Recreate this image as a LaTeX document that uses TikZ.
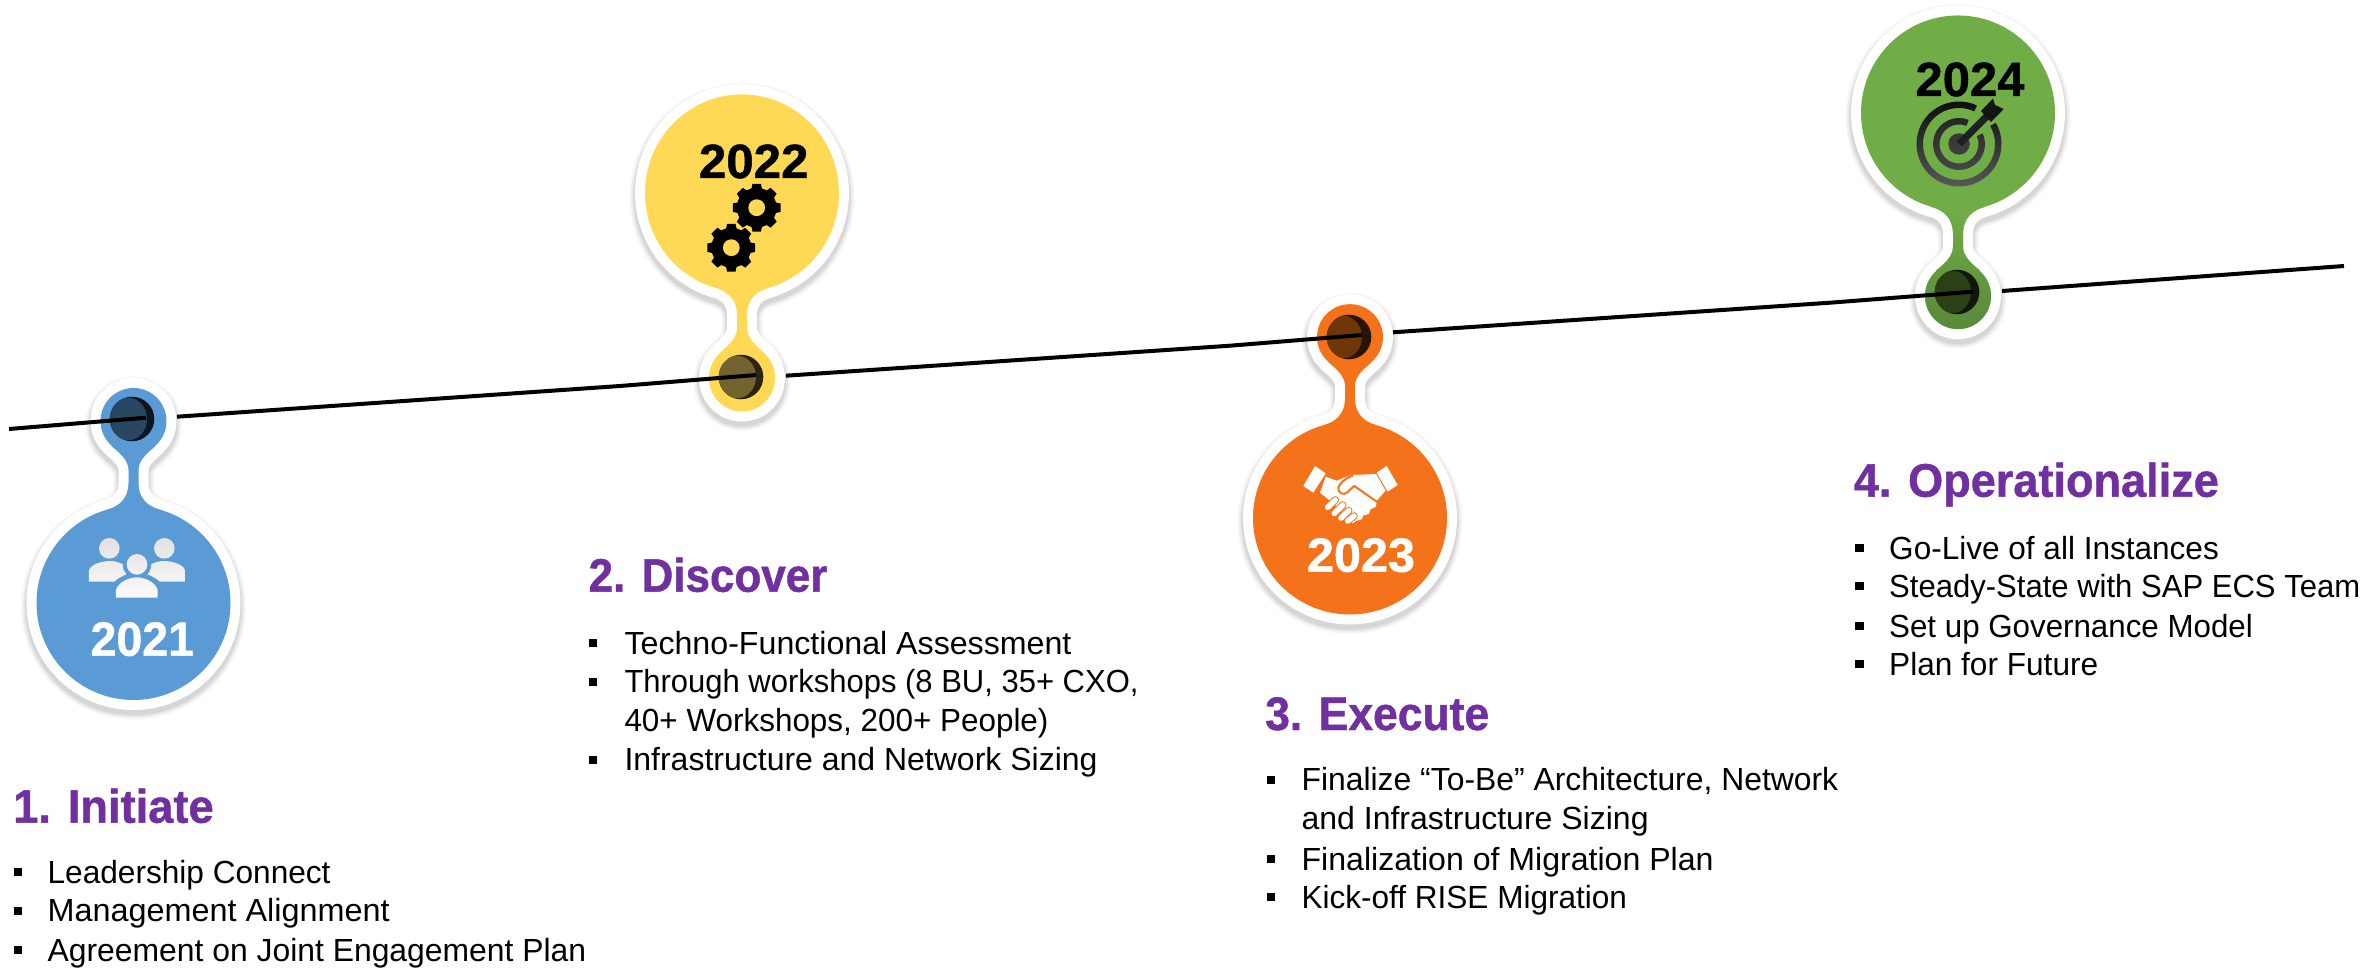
\documentclass[tikz,border=0pt]{standalone}
\usepackage{fontspec}
\usepackage{graphicx}
\setmainfont{Liberation Sans}
\newfontfamily\heavyfont[FakeBold=1.0]{Liberation Sans Bold}
\usetikzlibrary{calc}
\definecolor{headc}{HTML}{7030A0}
\definecolor{bluep}{HTML}{5B9BD5}
\definecolor{yellp}{HTML}{FFD955}
\definecolor{orap}{HTML}{F4731A}
\definecolor{grep}{HTML}{70AD47}
\definecolor{grepd}{HTML}{59873A}
\definecolor{HoleA}{HTML}{2A4762}
\definecolor{HoleAb}{HTML}{0D1620}
\definecolor{HoleB}{HTML}{73632F}
\definecolor{HoleBb}{HTML}{2B2410}
\definecolor{HoleC}{HTML}{6F3608}
\definecolor{HoleCb}{HTML}{291404}
\definecolor{HoleD}{HTML}{2C4018}
\definecolor{HoleDb}{HTML}{101809}
\tikzset{
  headtext/.style={inner sep=0pt,anchor=base west,text=headc,font=\fontsize{47}{52}\selectfont\heavyfont},
  itemtext/.style={inner sep=0pt,anchor=base west,text=black,font=\fontsize{32}{36}\selectfont},
  yeartext/.style={inner sep=0pt,anchor=base,font=\fontsize{48}{52}\selectfont\heavyfont},
  timeline/.style={draw=black,line width=4pt,line cap=butt,line join=round}
}
\newcommand\fitw[2]{\resizebox{#1pt}{\height}{#2}}
\newcommand\neckpath{(-26,-93.5) .. controls (-14,-96.8) and (-5,-105) .. (-5,-120) .. controls (-5,-124) and (-5,-129) .. (-5,-133) .. controls (-5,-143) and (-14,-150) .. (-22,-157)
  -- (22,-157) .. controls (14,-150) and (5,-143) .. (5,-133) .. controls (5,-129) and (5,-124) .. (5,-120) .. controls (5,-105) and (14,-96.8) .. (26,-93.5) -- cycle}
\newcommand\pinpath{(0,0) circle (97) (0,-182) circle (33) \neckpath}
\newcommand\pin[4]{% x y yscale fill
  \foreach \w/\o in {32/.015,30/.02,28/.025,26/.03,24/.035,22/.04}{
    \path[shift={(#1,#2+4)},yscale=#3,draw=black,fill=black,line width=\w pt,opacity=\o,line join=round] \pinpath;}
  \path[shift={(#1,#2)},yscale=#3,draw=white,fill=white,line width=20pt,line join=round] \pinpath;
  \path[shift={(#1,#2)},yscale=#3,fill=#4] (0,0) circle (97) (0,-182) circle (33);
  \path[shift={(#1,#2)},yscale=#3,fill=#4] \neckpath;
}
\newcommand\hole[5]{% frontx y backx front back
  \fill[#5] (#3,#2) circle (22.3);
  \begin{scope}\clip (#3,#2) circle (22.3);
  \fill[#4] (#1,#2) ellipse (19 and 21.3);
  \end{scope}
}
\newcommand\bul[2]{\fill[black] (#1,#2-4.2) rectangle (#1+8.4,#2+4.2);}
\newcommand\gear[2]{%
  \fill[black,line join=round] ($(#1,#2)+(-10:24.3)$)
   \foreach \a in {0,45,...,315}{ -- ($(#1,#2)+(\a-10:24.3)$) -- ($(#1,#2)+(\a+10:24.3)$) -- ($(#1,#2)+(\a+15:20)$) -- ($(#1,#2)+(\a+30:20)$)} -- cycle;
  \fill[yellp] (#1,#2) circle (8.4);
}
\newcommand\shpart[5]{\begin{scope}\clip #1; \shade[top color=#2,bottom color=#3] #4 rectangle #5;\end{scope}}
\begin{document}
\begin{tikzpicture}[yscale=-1,x=1pt,y=1pt]
\path[use as bounding box,fill=white] (0,0) rectangle (2374,968);

% pins
\pin{133.5}{603}{1}{bluep}
\pin{742}{193}{-1.0165}{yellp}
\pin{1350}{518}{0.9945}{orap}
\pin{1958}{113}{-1.0055}{grep}
% darkening towards the end of pin 4
\shpart{(1958,296) circle (33)}{grep}{grepd}{(1900,205)}{(2020,335)}
\begin{scope}[shift={(1958,113)},yscale=-1.0055]
\clip \neckpath;
\shade[top color=grep,bottom color=grepd] (-60,-222) rectangle (60,-92);
\end{scope}

% holes
\hole{128}{419}{132}{HoleA}{HoleAb}
\hole{737}{377}{741}{HoleB}{HoleBb}
\hole{1343}{337}{1349}{HoleC}{HoleCb}
\hole{1952}{292}{1957}{HoleD}{HoleDb}

% line
\coordinate (l0) at (9,429);   \coordinate (l1) at (146,417.7);
\coordinate (l2) at (177,416.7); \coordinate (l2a) at (620,386); \coordinate (l3) at (756,375);
\coordinate (l4) at (786,375.7); \coordinate (l4a) at (1230,345.7); \coordinate (l5) at (1362,335);
\coordinate (l6) at (1393,332.3); \coordinate (l6a) at (1830,302.7); \coordinate (l7) at (1973,291.7);
\coordinate (l8) at (2002,291); \coordinate (l9) at (2344,266);
\draw[timeline] (l0) -- (l1);
\draw[timeline] (l2) -- (l2a) -- (l3);
\draw[timeline] (l4) -- (l4a) -- (l5);
\draw[timeline] (l6) -- (l6a) -- (l7);
\draw[timeline] (l8) -- (l9);

% people icon
\begin{scope}[shift={(0,360)},scale=1/3]
\shpart{(328,565) circle (31)}{black!12}{black!1}{(240,530)}{(580,720)}
\shpart{(493,565) circle (31)}{black!12}{black!1}{(240,530)}{(580,720)}
\shpart{(411,613) circle (31)}{black!12}{black!1}{(240,530)}{(580,720)}
\shpart{(267,665) -- (267,632) .. controls (270,612) and (310,603) .. (330,603) .. controls (345,603) and (358,607) .. (368,613) .. controls (368,625) and (372,635) .. (380,643) .. controls (366,648) and (352,656) .. (342,665) -- cycle}{black!12}{black!1}{(240,530)}{(580,720)}
\shpart{(555,665) -- (555,632) .. controls (552,612) and (512,603) .. (492,603) .. controls (477,603) and (464,607) .. (454,613) .. controls (454,625) and (450,635) .. (442,643) .. controls (456,648) and (470,656) .. (480,665) -- cycle}{black!12}{black!1}{(240,530)}{(580,720)}
\shpart{(348,713) -- (348,690) .. controls (355,665) and (390,652) .. (411,652) .. controls (432,652) and (466,665) .. (473,690) -- (473,713) -- cycle}{black!12}{black!1}{(240,530)}{(580,720)}
\end{scope}

% gears
\gear{731.3}{247.7}
\gear{756.7}{207.7}

% handshake
\begin{scope}[shift={(1295,450)},scale=1/3]
\fill[white] (60,48) -- (92,70) -- (55,128) -- (25,108) -- cycle;
\fill[white] (275,48) -- (308,105) -- (278,125) -- (245,68) -- cycle;
\fill[white,line join=round] (92,80) -- (125,92) -- (168,75) -- (243,72) -- (272,122) -- (245,152) -- (243,170) -- (226,178) -- (222,192) -- (205,196) -- (200,208) -- (185,212) -- (172,220) -- (120,165) -- (100,148) -- (75,128) -- cycle;
\draw[orap,line width=2pt,line cap=round,line join=round] (172,77) .. controls (150,85) and (135,100) .. (130,112) .. controls (127,128) and (145,138) .. (157,127) .. controls (165,120) and (170,113) .. (178,108) -- (245,155);
\foreach \xa/\ya/\xb/\yb in {98/172/121/150,118/190/143/165,138/204/161/182,158/213/177/198}{
  \draw[orap,line width=7.6pt,line cap=round] (\xa,\ya) -- (\xb,\yb);
  \draw[white,line width=5.6pt,line cap=round] (\xa,\ya) -- (\xb,\yb);
}
\end{scope}

% target
\begin{scope}[shift={(1959,144)}]
\shpart{(-30:42.5) arc (-30:295:42.5) -- (295:36) arc (295:-30:36) -- cycle}{black!95}{black!65}{(-44,-44)}{(44,44)}
\shpart{(-24:26) arc (-24:292:26) -- (292:19.5) arc (292:-24:19.5) -- cycle}{black!90}{black!68}{(-44,-44)}{(44,44)}
\shpart{(0,0) circle (10.7)}{black!82}{black!72}{(-44,-44)}{(44,44)}
\fill[black!88] (-2.5,-2.5) -- (25.5,-30.5) -- (30.5,-25.5) -- (2.5,2.5) -- cycle;
\fill[black!92] (22,-33) -- (34,-45.5) -- (36,-39) -- (44.7,-35) -- (32,-22) -- (26,-28) -- cycle;
\end{scope}

% years
\node[yeartext,text=white] (y21) at (142.3,655.7) {\fitw{103.5}{2021}};
\node[yeartext,text=black] (y22) at (753.7,178) {\fitw{109.5}{2022}};
\node[yeartext,text=white] (y23) at (1361,571.7) {\fitw{108}{2023}};
\node[yeartext,text=black] (y24) at (1970,96) {\fitw{109}{2024}};

% block 1
\node[headtext] (h1) at (13,822.7) {\fitw{200.5}{1. Initiate}};
\bul{13.8}{872}\bul{13.8}{911}\bul{13.8}{950}
\node[itemtext] (t11) at (47.4,883) {\fitw{283}{Leadership Connect}};
\node[itemtext] (t12) at (47.4,921.7) {\fitw{342}{Management Alignment}};
\node[itemtext] (t13) at (47.4,961) {\fitw{538.6}{Agreement on Joint Engagement Plan}};
% block 2
\node[headtext] (h2) at (588.4,591.7) {\fitw{238.8}{2. Discover}};
\bul{589}{643}\bul{589}{681.7}\bul{589}{760}
\node[itemtext] (t21) at (624.3,654) {\fitw{447}{Techno-Functional Assessment}};
\node[itemtext] (t22) at (624.3,692) {\fitw{514}{Through workshops (8 BU, 35+ CXO,}};
\node[itemtext] (t23) at (624.3,731.7) {\fitw{424}{40+ Workshops, 200+ People)}};
\node[itemtext] (t24) at (624.3,770.7) {\fitw{473}{Infrastructure and Network Sizing}};
% block 3
\node[headtext] (h3) at (1265,730) {\fitw{224}{3. Execute}};
\bul{1267}{780}\bul{1267}{859}\bul{1267}{897}
\node[itemtext] (t31) at (1301.4,790.7) {\fitw{536.6}{Finalize “To-Be” Architecture, Network}};
\node[itemtext] (t32) at (1301.4,829) {\fitw{347}{and Infrastructure Sizing}};
\node[itemtext] (t33) at (1301.4,870) {\fitw{412}{Finalization of Migration Plan}};
\node[itemtext] (t34) at (1301.4,908) {\fitw{325.4}{Kick-off RISE Migration}};
% block 4
\node[headtext] (h4) at (1853.6,496.7) {\fitw{365}{4. Operationalize}};
\bul{1855.3}{547.7}\bul{1855.3}{585.7}\bul{1855.3}{625.7}\bul{1855.3}{664}
\node[itemtext] (t41) at (1889,559) {\fitw{329.6}{Go-Live of all Instances}};
\node[itemtext] (t42) at (1889,597.7) {\fitw{471}{Steady-State with SAP ECS Team}};
\node[itemtext] (t43) at (1889,637) {\fitw{363.6}{Set up Governance Model}};
\node[itemtext] (t44) at (1889,675.7) {\fitw{209}{Plan for Future}};
\end{tikzpicture}
\end{document}
